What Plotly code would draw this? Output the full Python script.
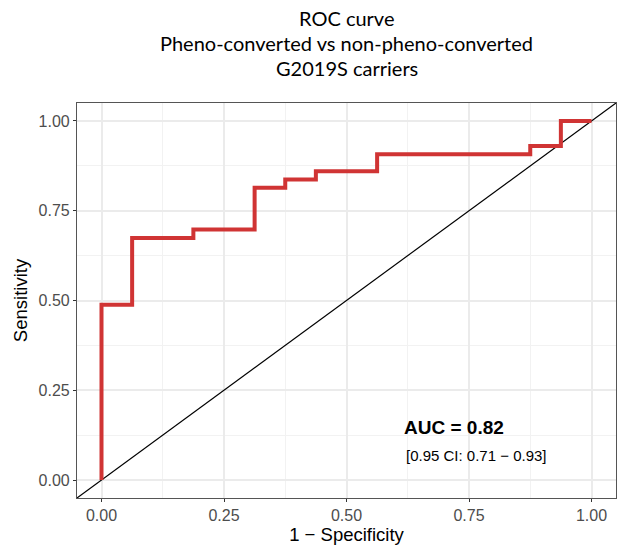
import plotly.graph_objects as go

# ROC curve: false positive rate (1 - specificity) at which each step occurs,
# and the sensitivity reached at that step
fpr = [0.0, 0.0, 0.0625, 0.1875, 0.3125, 0.375, 0.4375, 0.5625, 0.875, 0.9375, 1.0]
tpr = [0.0, 0.488, 0.674, 0.698, 0.814, 0.837, 0.860, 0.907, 0.930, 1.0, 1.0]

tick_vals = [0.0, 0.25, 0.5, 0.75, 1.0]
tick_text = ["0.00", "0.25", "0.50", "0.75", "1.00"]

auc_label = "AUC = 0.82"
ci_label = "[0.95 CI: 0.71 \u2212 0.93]"
title_lines = ["ROC curve", "Pheno-converted vs non-pheno-converted", "G2019S carriers"]

rng = [-0.05, 1.05]

fig = go.Figure()

# chance line across the whole panel
fig.add_trace(go.Scatter(
    x=rng, y=rng, mode="lines",
    line=dict(color="black", width=1.2),
    hoverinfo="skip", showlegend=False,
))

fig.add_trace(go.Scatter(
    x=fpr, y=tpr, mode="lines", line_shape="hv",
    line=dict(color="#D03434", width=4),
    showlegend=False,
))

fig.add_annotation(x=0.72, y=0.146, xref="x", yref="y", text="<b>" + auc_label + "</b>",
                   showarrow=False, font=dict(family="Liberation Sans, Arial", size=19, color="black"))
fig.add_annotation(x=0.765, y=0.069, xref="x", yref="y", text=ci_label,
                   showarrow=False, font=dict(family="Liberation Sans, Arial", size=15, color="black"))

# three-line title, one annotation per line
for line, ypos in zip(title_lines, [1.214, 1.151, 1.088]):
    fig.add_annotation(x=0.5, y=ypos, xref="paper", yref="paper", text=line,
                       showarrow=False, xanchor="center", yanchor="middle",
                       font=dict(family="Lato, Carlito, Calibri, sans-serif", size=20, color="black"))

axis_common = dict(
    range=rng, tickvals=tick_vals, ticktext=tick_text,
    showgrid=True, gridcolor="#EBEBEB", gridwidth=1.5,
    minor=dict(tickvals=[0.125, 0.375, 0.625, 0.875], showgrid=True,
               gridcolor="#F2F2F2", gridwidth=0.9, ticks=""),
    zeroline=False,
    showline=True, linecolor="#555555", linewidth=1.2, mirror=True,
    ticks="outside", ticklen=3, tickwidth=1.1, tickcolor="#333333",
    tickfont=dict(family="Liberation Sans, Arial", size=16, color="#4D4D4D"),
    title_font=dict(family="Liberation Sans, Arial", size=18.5, color="black"),
)

fig.update_xaxes(title_text="1 \u2212 Specificity", title_standoff=6, **axis_common)
fig.update_yaxes(title_text="Sensitivity", title_standoff=6, **axis_common)

fig.update_layout(
    width=619, height=545,
    margin=dict(l=77, r=2, t=103, b=45),
    paper_bgcolor="white", plot_bgcolor="white",
)

fig.write_html("out.html")
